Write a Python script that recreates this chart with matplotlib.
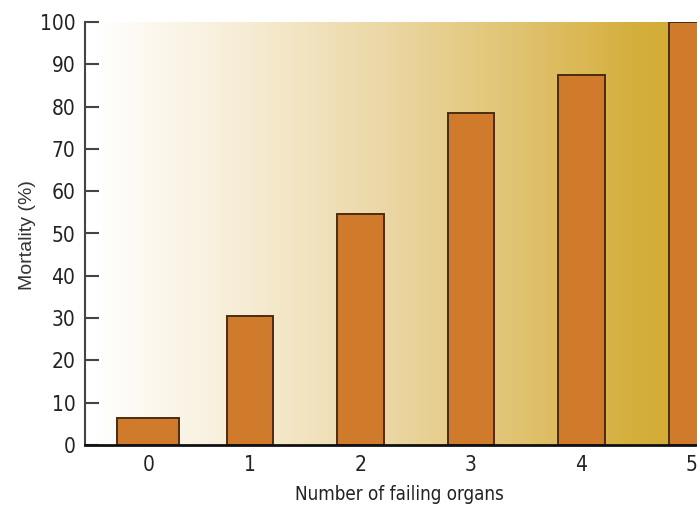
import numpy as np
import matplotlib
matplotlib.use('Agg')
import matplotlib.pyplot as plt
from matplotlib.colors import LinearSegmentedColormap

# data
organs = ['0', '1', '2', '3', '4', '5']
positions = [0.08, 1, 2, 3, 4, 5]
widths = [0.56, 0.42, 0.42, 0.42, 0.42, 0.42]
mortality = [6.5, 30.5, 54.5, 78.5, 87.5, 100]

fig = plt.figure(figsize=(6.97, 5.05), dpi=100)
W, H = 697, 505
unit = 110.5
x0, x1 = -0.493, 5.4
ax = fig.add_axes([85 / W, (H - 445) / H, (x1 - x0) * unit / W, (445 - 22) / H])
ax.set_xlim(x0, x1)
ax.set_ylim(0, 100)

# background gradient, white on the left to gold on the right
cmap = LinearSegmentedColormap.from_list('bg', [
    (0.0, '#FFFFFF'), (0.25, '#F7EDD6'), (0.5, '#EBD7A4'),
    (0.75, '#DFC06A'), (0.92, '#D5AF3C'), (1.0, '#D3AB34')])
grad = np.linspace(0, 1, 512).reshape(1, -1)
ax.imshow(grad, cmap=cmap, aspect='auto', extent=[x0 + 0.08, 4.9, 0, 100], zorder=0)

ax.bar(positions, mortality, width=widths, color='#D07A2C',
       edgecolor='#4A2C14', linewidth=1.4, zorder=2)

for s in ['top', 'right']:
    ax.spines[s].set_visible(False)
ax.spines['bottom'].set_color('#111111')
ax.spines['bottom'].set_linewidth(2)
ax.spines['left'].set_color('#444444')
ax.spines['left'].set_linewidth(1.5)
ax.spines['bottom'].set_zorder(3)

ax.set_yticks(range(0, 101, 10))
ax.set_xticks(positions)
ax.set_xticklabels(organs)
ax.tick_params(axis='y', direction='in', length=10, width=1.5, color='#444444', pad=7)
ax.tick_params(axis='x', length=0, pad=7)
for lab in ax.get_xticklabels() + ax.get_yticklabels():
    lab.set_family('DejaVu Sans')
    lab.set_stretch('condensed')
    lab.set_fontsize(15)
    lab.set_color('#222222')

fig.text(28 / W, 1 - 235 / H, 'Mortality (%)', rotation=90, ha='center', va='center',
         fontsize=14, color='#333333', family=['Liberation Sans', 'DejaVu Sans'])
fig.text(399 / W, 1 - 494 / H, 'Number of failing organs', ha='center', va='center',
         fontsize=13.5, color='#222222', family='DejaVu Sans', stretch='condensed')

fig.savefig('out.png', dpi=100)
